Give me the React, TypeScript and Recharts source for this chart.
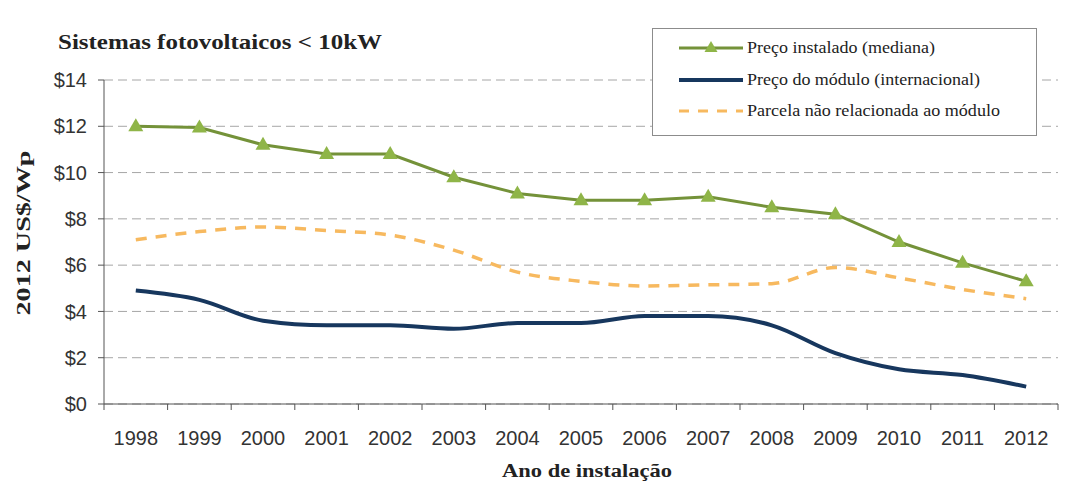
import React from 'react';
import { LineChart, Line, XAxis, YAxis, CartesianGrid, Legend } from 'recharts';

// Preço por Wp, em US$ de 2012
const YEARS = ['1998', '1999', '2000', '2001', '2002', '2003', '2004', '2005', '2006', '2007', '2008', '2009', '2010', '2011', '2012'];
const INSTALLED = [12.0, 11.95, 11.2, 10.8, 10.8, 9.8, 9.1, 8.8, 8.8, 8.95, 8.5, 8.2, 7.0, 6.1, 5.3];
const MODULE = [4.9, 4.5, 3.6, 3.4, 3.4, 3.25, 3.5, 3.5, 3.8, 3.8, 3.4, 2.2, 1.5, 1.25, 0.75];
const NON_MODULE = [7.1, 7.45, 7.65, 7.5, 7.3, 6.65, 5.7, 5.3, 5.1, 5.15, 5.2, 5.9, 5.45, 4.95, 4.55];
const Y_TICKS = [0, 2, 4, 6, 8, 10, 12, 14];

const SERIES_NAMES = {
  installed: 'Preço instalado (mediana)',
  module: 'Preço do módulo (internacional)',
  nonModule: 'Parcela não relacionada ao módulo',
};

const GREEN_LINE = '#749239';
const GREEN_MARK = '#8fb548';
const NAVY = '#17375e';
const ORANGE = '#f7b95f';
const SERIF = { fontFamily: "'Times New Roman', Times, 'Liberation Serif', serif" };
const SANS = { fontFamily: "Arial, 'Liberation Sans', sans-serif" };

const W = 1061;
const H = 477;
const PLOT_LEFT = 96;
const PLOT_RIGHT = 1050;
const PLOT_BOTTOM = 396;
const BAND = (PLOT_RIGHT - PLOT_LEFT) / YEARS.length;

const data = YEARS.map((year, i) => ({
  year,
  installed: INSTALLED[i],
  module: MODULE[i],
  nonModule: NON_MODULE[i],
}));

function Triangle(props: any) {
  const { cx, cy } = props;
  if (cx == null || cy == null) return null;
  return <polygon points={`${cx},${cy - 8} ${cx - 7.5},${cy + 5} ${cx + 7.5},${cy + 5}`} fill={GREEN_MARK} />;
}

// category labels centred, tick marks on the band boundaries
function YearTick(props: any) {
  const { x, payload, index } = props;
  const left = x - BAND / 2;
  return (
    <g>
      <line x1={left} x2={left} y1={PLOT_BOTTOM} y2={PLOT_BOTTOM + 6} stroke="#555" />
      {index === YEARS.length - 1 && (
        <line x1={x + BAND / 2} x2={x + BAND / 2} y1={PLOT_BOTTOM} y2={PLOT_BOTTOM + 6} stroke="#555" />
      )}
      <text x={x} y={437} textAnchor="middle" style={SANS} fontSize={20} fill="#333">
        {payload.value}
      </text>
    </g>
  );
}

function LegendBox() {
  const rows = [
    { name: SERIES_NAMES.installed, len: 188 },
    { name: SERIES_NAMES.module, len: 233 },
    { name: SERIES_NAMES.nonModule, len: 253 },
  ];
  return (
    <div style={{ width: 383, height: 106, border: '1px solid #8c8c8c', background: '#fff' }}>
      <svg width={383} height={106}>
        <line x1={26} x2={90} y1={19} y2={19} stroke={GREEN_LINE} strokeWidth={3} />
        <polygon points="58,12 51.5,23 64.5,23" fill={GREEN_MARK} />
        <line x1={26} x2={90} y1={51} y2={51} stroke={NAVY} strokeWidth={4} />
        <line x1={26} x2={90} y1={82} y2={82} stroke={ORANGE} strokeWidth={3} strokeDasharray="10 9" />
        {rows.map((r, i) => (
          <text
            key={r.name}
            x={94}
            y={19 + i * 31.5 + 5}
            style={SERIF}
            fontSize={16}
            fill="#222"
            textLength={r.len}
            lengthAdjust="spacingAndGlyphs"
          >
            {r.name}
          </text>
        ))}
      </svg>
    </div>
  );
}

export default function App() {
  return (
    <div style={{ position: 'relative', width: W, height: H, background: '#fff' }}>
      <LineChart width={W} height={H} data={data} margin={{ top: 72, right: W - PLOT_RIGHT, bottom: 31, left: PLOT_LEFT - 60 }}>
        <CartesianGrid vertical={false} stroke="#a6a6a6" strokeDasharray="9 5" />
        <XAxis
          dataKey="year"
          scale="band"
          height={50}
          axisLine={{ stroke: '#555' }}
          tickLine={false}
          tick={<YearTick />}
          interval={0}
          label={{
            content: () => (
              <text x={579} y={469} textAnchor="middle" style={SERIF} fontWeight="bold" fontSize={18} fill="#222" textLength={170} lengthAdjust="spacingAndGlyphs">
                Ano de instalação
              </text>
            ),
          }}
        />
        <YAxis
          width={60}
          domain={[0, 14]}
          ticks={Y_TICKS}
          interval={0}
          tickFormatter={(v) => `$${v}`}
          axisLine={{ stroke: '#555' }}
          tickLine={{ stroke: '#555' }}
          tickSize={6}
          tickMargin={11}
          tick={{ ...SANS, fontSize: 20, fill: '#333' }}
          label={{
            content: () => (
              <text
                transform="translate(22, 225) rotate(-90)"
                textAnchor="middle"
                style={SERIF}
                fontWeight="bold"
                fontSize={19}
                fill="#222"
                textLength={165}
                lengthAdjust="spacingAndGlyphs"
              >
                2012 US$/Wp
              </text>
            ),
          }}
        />
        <Legend
          layout="vertical"
          align="center"
          verticalAlign="middle"
          content={<LegendBox />}
          wrapperStyle={{ left: 644, top: 20, width: 385, height: 108 }}
        />
        <Line
          dataKey="nonModule"
          name={SERIES_NAMES.nonModule}
          type="monotone"
          stroke={ORANGE}
          strokeWidth={3.5}
          strokeDasharray="11 9"
          dot={false}
          isAnimationActive={false}
        />
        <Line
          dataKey="module"
          name={SERIES_NAMES.module}
          type="monotone"
          stroke={NAVY}
          strokeWidth={4}
          dot={false}
          isAnimationActive={false}
        />
        <Line
          dataKey="installed"
          name={SERIES_NAMES.installed}
          type="linear"
          stroke={GREEN_LINE}
          strokeWidth={3}
          dot={<Triangle />}
          isAnimationActive={false}
        />
      </LineChart>
      <svg width={420} height={60} style={{ position: 'absolute', left: 0, top: 0 }}>
        <text x={50} y={41} style={SERIF} fontWeight="bold" fontSize={22} fill="#222" textLength={324} lengthAdjust="spacingAndGlyphs">
          Sistemas fotovoltaicos &lt; 10kW
        </text>
      </svg>
    </div>
  );
}
